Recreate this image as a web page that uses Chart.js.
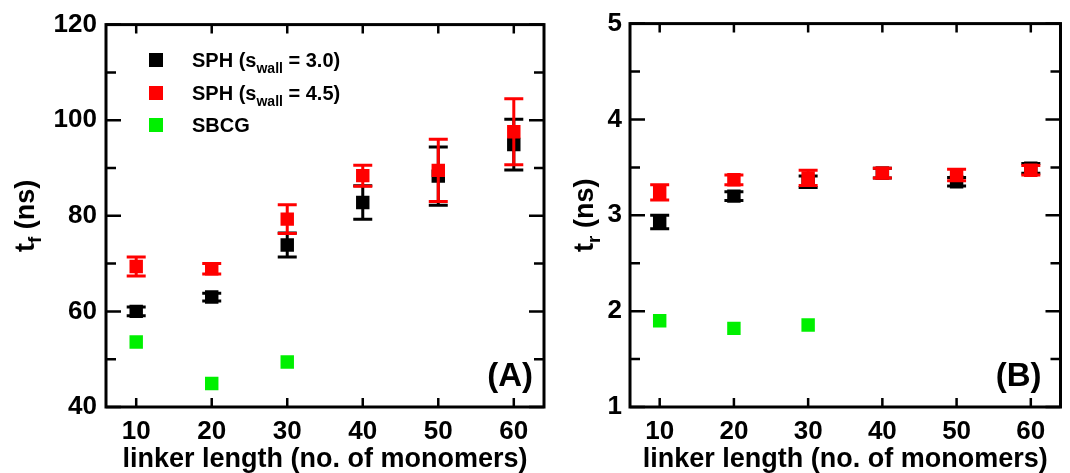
<!DOCTYPE html>
<html>
<head>
<meta charset="utf-8">
<script src="https://cdn.jsdelivr.net/npm/chart.js@4"></script>
<style>
body { margin: 0; background: #fff; }
#wrap { position: relative; width: 1070px; height: 473px; }
canvas { position: absolute; top: 0; }
#chartA { left: 0; }
#chartB { left: 560px; }
</style>
</head>
<body>
<div id="wrap">
  <canvas id="chartA" width="560" height="473"></canvas>
  <canvas id="chartB" width="510" height="473"></canvas>
</div>
<script>
// linker lengths (x) and tick labels
const LINKER = [10, 20, 30, 40, 50, 60];
const X_TICKS = [10, 20, 30, 40, 50, 60];

// panel A: t_f (ns)
const TF_SPH30 = [60.0, 63.0, 73.9, 82.8, 88.3, 94.9];
const TF_SPH30_ERR = [0.9, 0.8, 2.5, 3.5, 6.1, 5.3];
const TF_SPH45 = [69.4, 68.9, 79.3, 88.4, 89.5, 97.6];
const TF_SPH45_ERR = [2.0, 1.1, 3.0, 2.2, 6.5, 6.9];
const TF_SBCG = [53.6, 44.9, 49.4];

// panel B: t_r (ns)
const TR_SPH30 = [2.93, 3.20, 3.35, 3.44, 3.35, 3.49];
const TR_SPH30_ERR = [0.07, 0.045, 0.06, 0.05, 0.045, 0.05];
const TR_SPH45 = [3.24, 3.37, 3.39, 3.44, 3.42, 3.47];
const TR_SPH45_ERR = [0.08, 0.05, 0.08, 0.05, 0.06, 0.05];
const TR_SBCG = [1.90, 1.82, 1.855];

// legend labels: [before subscript, subscript, after]
const LEGEND = [
  ['SPH (s', 'wall', ' = 3.0)'],
  ['SPH (s', 'wall', ' = 4.5)'],
  ['SBCG', '', '']
];

const BLACK = '#000000', RED = '#ff0000', GREEN = '#00f000';
const FONT = 'Liberation Sans, Arial, sans-serif';

Chart.defaults.font.family = FONT;
Chart.defaults.color = '#000';

function pts(vals) {
  return vals.map((v, i) => ({ x: LINKER[i], y: v }));
}

function series(label, vals, errs, color, order) {
  return {
    label: label,
    data: pts(vals),
    errors: errs,
    showLine: false,
    pointStyle: 'rect',
    pointRadius: 9.5,
    pointBorderWidth: 0,
    pointBackgroundColor: color,
    borderColor: color,
    backgroundColor: color,
    order: order
  };
}

// error bars, drawn just before each dataset's points
const errorBars = {
  id: 'errorBars',
  beforeDatasetDraw(chart, args) {
    const ds = chart.data.datasets[args.index];
    if (!ds.errors) return;
    const ctx = chart.ctx;
    const y = chart.scales.y;
    ctx.save();
    ctx.strokeStyle = ds.borderColor;
    ctx.lineWidth = 3;
    args.meta.data.forEach((p, i) => {
      const v = ds.data[i].y, e = ds.errors[i];
      const top = y.getPixelForValue(v + e), bot = y.getPixelForValue(v - e);
      ctx.beginPath();
      ctx.moveTo(p.x, top); ctx.lineTo(p.x, bot);
      ctx.moveTo(p.x - 9.5, top); ctx.lineTo(p.x + 9.5, top);
      ctx.moveTo(p.x - 9.5, bot); ctx.lineTo(p.x + 9.5, bot);
      ctx.stroke();
    });
    ctx.restore();
  }
};

function subText(ctx, x, y, parts, size, subSize, subDrop) {
  ctx.font = 'bold ' + size + 'px ' + FONT;
  ctx.fillText(parts[0], x, y);
  x += ctx.measureText(parts[0]).width;
  if (parts[1]) {
    ctx.font = 'bold ' + subSize + 'px ' + FONT;
    ctx.fillText(parts[1], x, y + subDrop);
    x += ctx.measureText(parts[1]).width;
  }
  ctx.font = 'bold ' + size + 'px ' + FONT;
  ctx.fillText(parts[2], x, y);
}

function subWidth(ctx, parts, size, subSize) {
  ctx.font = 'bold ' + size + 'px ' + FONT;
  let w = ctx.measureText(parts[0]).width + ctx.measureText(parts[2]).width;
  ctx.font = 'bold ' + subSize + 'px ' + FONT;
  return w + ctx.measureText(parts[1]).width;
}

// frame, inside ticks, y title, panel letter, legend
const decor = {
  id: 'decor',
  afterDraw(chart, args, o) {
    const ctx = chart.ctx, a = chart.chartArea;
    const xs = chart.scales.x, ys = chart.scales.y;
    ctx.save();
    ctx.strokeStyle = '#000';
    ctx.lineWidth = 2.5;
    ctx.beginPath();
    X_TICKS.forEach(v => {
      const px = xs.getPixelForValue(v);
      ctx.moveTo(px, a.bottom); ctx.lineTo(px, a.bottom - 9);
      ctx.moveTo(px, a.top); ctx.lineTo(px, a.top + 9);
    });
    const t = ys.ticks.map(k => k.value);
    t.forEach((v, i) => {
      const py = ys.getPixelForValue(v);
      ctx.moveTo(a.left, py); ctx.lineTo(a.left + 15, py);
      ctx.moveTo(a.right, py); ctx.lineTo(a.right - 15, py);
      if (i < t.length - 1) {
        const my = ys.getPixelForValue((v + t[i + 1]) / 2);
        ctx.moveTo(a.left, my); ctx.lineTo(a.left + 10, my);
        ctx.moveTo(a.right, my); ctx.lineTo(a.right - 10, my);
      }
    });
    ctx.stroke();
    ctx.lineWidth = 3;
    ctx.strokeRect(a.left, a.top, a.right - a.left, a.bottom - a.top);

    ctx.fillStyle = '#000';
    ctx.textBaseline = 'alphabetic';
    ctx.textAlign = 'left';

    // rotated y title with subscript
    const w = subWidth(ctx, o.ytitle, 27, 19);
    ctx.save();
    ctx.translate(o.ytitleX, (a.top + a.bottom) / 2);
    ctx.rotate(-Math.PI / 2);
    subText(ctx, -w / 2, 0, o.ytitle, 27, 19, 7);
    ctx.restore();

    // panel letter
    ctx.font = 'bold 33px ' + FONT;
    ctx.textAlign = 'right';
    ctx.fillText(o.letter, a.right - o.letterDx, a.bottom - 21);
    ctx.textAlign = 'left';

    if (o.legend) {
      const rows = [67, 100, 132];
      chart.data.datasets.forEach((ds, i) => {
        ctx.fillStyle = ds.backgroundColor;
        ctx.fillRect(156 - 7, rows[i] - 7 - 7, 14, 14);
        ctx.fillStyle = '#000';
        subText(ctx, 192, rows[i], LEGEND[i], 20, 14, 6);
      });
    }
    ctx.restore();
  }
};

function makeChart(id, sets, ymin, ymax, ystep, yw, pad, tickPad, deco) {
  return new Chart(document.getElementById(id), {
    type: 'scatter',
    data: { datasets: sets },
    options: {
      responsive: false,
      animation: false,
      events: [],
      layout: { padding: pad },
      plugins: { legend: { display: false }, tooltip: { enabled: false }, decor: deco },
      scales: {
        x: {
          type: 'linear', min: 6, max: 64,
          afterBuildTicks: s => { s.ticks = X_TICKS.map(v => ({ value: v })); },
          afterFit: s => { s.height = 66; },
          grid: { display: false, drawTicks: false },
          border: { display: false },
          ticks: { color: '#000', font: { size: 26, weight: 'bold' }, padding: 9, maxRotation: 0 },
          title: { display: true, text: 'linker length (no. of monomers)', color: '#000',
                   font: { size: 27, weight: 'bold', lineHeight: 1 }, padding: 0 }
        },
        y: {
          min: ymin, max: ymax,
          afterFit: s => { s.width = yw; },
          grid: { display: false, drawTicks: false },
          border: { display: false },
          ticks: { stepSize: ystep, color: '#000', font: { size: 26, weight: 'bold' }, padding: tickPad }
        }
      }
    },
    plugins: [errorBars, decor]
  });
}

makeChart('chartA', [
  series('SPH (s_wall = 3.0)', TF_SPH30, TF_SPH30_ERR, BLACK, 2),
  series('SPH (s_wall = 4.5)', TF_SPH45, TF_SPH45_ERR, RED, 1),
  series('SBCG', TF_SBCG, null, GREEN, 3)
], 40, 120, 20, 106, { top: 23, right: 16, left: 0, bottom: 0 }, 9,
  { ytitle: ['t', 'f', ' (ns)'], ytitleX: 34, letter: '(A)', letterDx: 11, legend: true });

makeChart('chartB', [
  series('SPH (s_wall = 3.0)', TR_SPH30, TR_SPH30_ERR, BLACK, 2),
  series('SPH (s_wall = 4.5)', TR_SPH45, TR_SPH45_ERR, RED, 1),
  series('SBCG', TR_SBCG, null, GREEN, 3)
], 1, 5, 1, 70, { top: 22, right: 5, left: 0, bottom: 0 }, 8,
  { ytitle: ['t', 'r', ' (ns)'], ytitleX: 33, letter: '(B)', letterDx: 19, legend: false });
</script>
</body>
</html>
